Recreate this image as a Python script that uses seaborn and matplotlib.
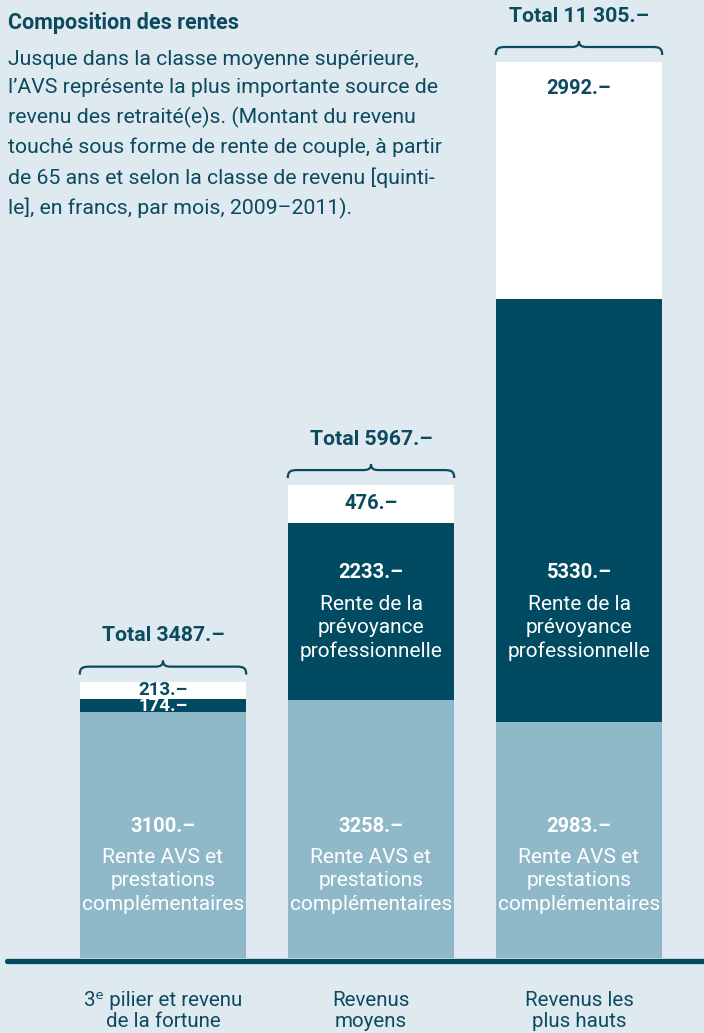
import numpy as np
import pandas as pd
import seaborn as sns
import matplotlib.pyplot as plt
from matplotlib.path import Path
from matplotlib.patches import PathPatch

# données (francs par mois, rente de couple, 2009-2011)
categories = ["3ᵉ pilier et revenu\nde la fortune", "Revenus\nmoyens", "Revenus les\nplus hauts"]
avs = [3100, 3258, 2983]
lpp = [174, 2233, 5330]
pilier3 = [213, 476, 2992]
totals = [3487, 5967, 11305]
total_labels = ["Total 3487.–", "Total 5967.–", "Total 11 305.–"]
avs_text = "Rente AVS et\nprestations\ncomplémentaires"
lpp_text = "Rente de la\nprévoyance\nprofessionnelle"

BG = "#dfeaf0"
LIGHT = "#8fb8c8"
DARK = "#004b62"
TXT = "#0c4a60"

sns.set_theme(style="white")
plt.rcParams["font.family"] = ["Roboto", "DejaVu Sans"]

W, H = 704, 1033
fig = plt.figure(figsize=(W / 100, H / 100), dpi=100)
fig.patch.set_facecolor(BG)
ax = fig.add_axes([0, 0, 1, 1])
ax.set_facecolor(BG)

# échelle: pixels par franc, base à y=958 px
base_px = 958
k = 896 / 11305
spacing = 208.0
c0 = 163.0

df = pd.DataFrame({"cat": categories, "avs": avs, "lpp": lpp, "p3": pilier3})
df["avs_lpp"] = df["avs"] + df["lpp"]
df["total"] = df["avs_lpp"] + df["p3"]

sns.barplot(data=df, x="cat", y="total", color="white", width=0.8, saturation=1,
            edgecolor="none", ax=ax)
sns.barplot(data=df, x="cat", y="avs_lpp", color=DARK, width=0.8, saturation=1,
            edgecolor="none", ax=ax)
sns.barplot(data=df, x="cat", y="avs", color=LIGHT, width=0.8, saturation=1,
            edgecolor="none", ax=ax)

ax.set_xlim(-c0 / spacing, 2 + (W - (c0 + 2 * spacing)) / spacing)
ax.set_ylim(-(H - base_px) / k, base_px / k)
ax.set_axis_off()


def py(px):
    # hauteur en pixels au-dessus de la base -> valeur
    return px / k


def dx(px):
    return px / spacing


# ligne de base
ax.axhline(-py(2.5), xmin=7 / W, xmax=1, color=DARK, lw=3.8, zorder=5)


def brace(xc, yb, half=0.4):
    xl, xr = xc - half, xc + half
    verts = [
        (xl, yb - py(8)),
        (xl, yb - py(1)), (xl + dx(3), yb), (xl + dx(10), yb),
        (xc - dx(8), yb),
        (xc - dx(3), yb), (xc, yb + py(1)), (xc, yb + py(6)),
        (xc, yb + py(1)), (xc + dx(3), yb), (xc + dx(8), yb),
        (xr - dx(10), yb),
        (xr - dx(3), yb), (xr, yb - py(1)), (xr, yb - py(8)),
    ]
    codes = [Path.MOVETO,
             Path.CURVE4, Path.CURVE4, Path.CURVE4,
             Path.LINETO,
             Path.CURVE4, Path.CURVE4, Path.CURVE4,
             Path.CURVE4, Path.CURVE4, Path.CURVE4,
             Path.LINETO,
             Path.CURVE4, Path.CURVE4, Path.CURVE4]
    ax.add_patch(PathPatch(Path(verts, codes), fill=False, ec=TXT, lw=1.6, zorder=6))


for i in range(3):
    t = totals[i]
    brace(i, t + py(15))
    ax.text(i, t + py(46), total_labels[i], ha="center", va="center",
            fontsize=15.3, fontweight="bold", color=TXT)

    # AVS
    ax.text(i, py(132), f"{avs[i]}.–", ha="center", va="center",
            fontsize=14.5, fontweight="bold", color="white")
    ax.text(i, py(77), avs_text, ha="center", va="center",
            fontsize=15, color="white", linespacing=1.3)

# segments LPP et 3e pilier
for i in (1, 2):
    ax.text(i, py(base_px - 572), f"{lpp[i]}.–", ha="center", va="center",
            fontsize=14.5, fontweight="bold", color="white")
    ax.text(i, py(base_px - 628), lpp_text, ha="center", va="center",
            fontsize=15, color="white", linespacing=1.3)

ax.text(1, avs[1] + lpp[1] + pilier3[1] / 2, f"{pilier3[1]}.–", ha="center",
        va="center", fontsize=14.5, fontweight="bold", color=TXT)
ax.text(2, totals[2] - py(26), f"{pilier3[2]}.–", ha="center", va="center",
        fontsize=14.5, fontweight="bold", color=TXT)
ax.text(0, avs[0] + lpp[0] + pilier3[0] / 2, f"{pilier3[0]}.–", ha="center",
        va="center", fontsize=13.5, fontweight="bold", color=TXT)
ax.text(0, avs[0] + lpp[0] / 2 - py(1), f"{lpp[0]}.–", ha="center",
        va="center", fontsize=13.5, fontweight="bold", color="white")

# libellés des catégories
for i, lab in enumerate(categories):
    ax.text(i, -py(1011 - base_px), lab, ha="center", va="center",
            fontsize=14.8, color=TXT, linespacing=1.12)

# titre et texte
fig.text(8 / W, 1 - 23 / H, "Composition des rentes", ha="left", va="center",
         fontsize=15.5, fontweight="bold", color=TXT)
body = ("Jusque dans la classe moyenne supérieure,\n"
        "l’AVS représente la plus importante source de\n"
        "revenu des retraité(e)s. (Montant du revenu\n"
        "touché sous forme de rente de couple, à partir\n"
        "de 65 ans et selon la classe de revenu [quinti-\n"
        "le], en francs, par mois, 2009–2011).")
fig.text(8 / W, 1 - 134.5 / H, body, ha="left", va="center",
         fontsize=15.3, color=TXT, linespacing=1.6)

fig.savefig("out.png", dpi=100, facecolor=BG)
